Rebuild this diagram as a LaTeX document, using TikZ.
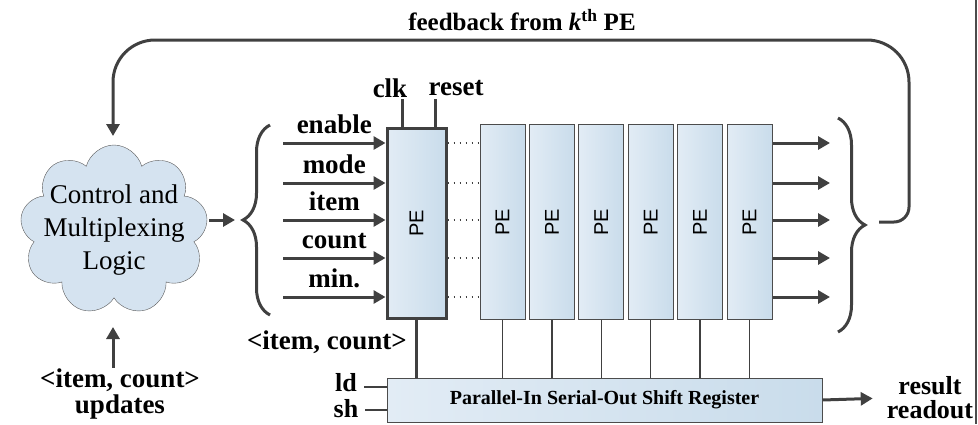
\documentclass[tikz,border=0pt]{standalone}
\usepackage{fontspec}
\setmainfont{Liberation Serif}
\setsansfont{Liberation Sans}
\usetikzlibrary{arrows.meta,shapes.symbols,decorations.pathreplacing,positioning}
\definecolor{wirecol}{RGB}{64,64,64}
\definecolor{peleft}{RGB}{226,236,245}
\definecolor{peright}{RGB}{201,220,235}
\definecolor{cloudfill}{RGB}{213,227,240}
\begin{document}
\begin{tikzpicture}[
    x=1pt, y=-1pt,
    pe/.style={
        rectangle,
        draw=gray!60!black,
        line width=1pt,
        left color=peleft,
        right color=peright,
        minimum width=45pt,
        minimum height=195pt,
        inner sep=0pt,
        font=\sffamily\fontsize{20}{24}\selectfont
    },
    lbl/.style={
        inner sep=1pt,
        font=\bfseries\fontsize{27}{26}\selectfont
    },
    sig/.style={
        draw=wirecol,
        line width=3pt,
        -{Triangle[length=12pt,width=13pt]}
    },
    bus/.style={draw=wirecol, line width=3pt},
    wire/.style={draw=wirecol, line width=1.5pt},
    dots/.style={draw=wirecol, line width=1.5pt, dash pattern=on 1.5pt off 4.5pt},
    brace/.style={
        draw=wirecol,
        line width=3pt,
        decorate,
        decoration={brace, amplitude=27pt}
    }
]
\useasboundingbox (0,0) rectangle (978,424);

% control logic
\node[cloud, draw=gray!70!black, fill=cloudfill, cloud puffs=9, aspect=1.1,
      minimum width=188pt, minimum height=170pt] (ctrl) at (114,230) {};
\node[align=center, font=\fontsize{27}{33}\selectfont] (ctrltext) at (ctrl.center) {Control and\\Multiplexing\\Logic};
\node[lbl, align=center] (upd) at (120,394) {<item, count>\\updates};
\coordinate (updend) at (113,327);

% PE array
\node[pe, minimum width=59pt, minimum height=190pt, draw=wirecol, line width=3pt] (pe1) at (416.5,223) {\rotatebox{90}{PE}};
\foreach \i in {2,...,7}
    \node[pe] (pe\i) at ({502.5+(\i-2)*49.4},222) {\rotatebox{90}{PE}};

\node[lbl] (clk) at (390,88) {clk};
\node[lbl] (reset) at (456,88) {reset};

% shift register
\node[pe, minimum width=435pt, minimum height=44pt, font=\bfseries\fontsize{20}{24}\selectfont] (sr) at (604.5,400) {Parallel-In Serial-Out Shift Register};
\node[lbl, font=\bfseries\fontsize{26}{26}\selectfont] (ld) at (346,383) {ld};
\node[lbl, font=\bfseries\fontsize{26}{26}\selectfont] (sh) at (346,409) {sh};
\node[lbl, align=center, font=\bfseries\fontsize{26}{24}\selectfont] (rr) at (930,398) {result\\readout};
\node[lbl, anchor=east] (ic) at (408,342) {<item, count>};

\node[lbl, font=\bfseries\fontsize{25}{25}\selectfont] (fbl) at (522,20) {feedback from \textit{k}\textsuperscript{th} PE};

% braces
\draw[brace] (270,315) -- (270,125);
\coordinate (lb) at (243,220);
\draw[brace] (838,118) -- (838,332);
\coordinate (rb) at (865,225);

% inputs and outputs
\foreach \y/\name [count=\k] in {143/enable,183/mode,220/item,258/count,297/min.} {
    \coordinate (in\k) at (283,\y);
    \coordinate (out\k) at (830,\y);
    \draw[sig] (in\k) -- (in\k -| pe1.west) node[lbl, midway, above=7pt] {\name};
    \draw[dots] (pe1.east |- in\k) -- (pe2.west |- in\k);
    \draw[sig] (pe7.east |- out\k) -- (out\k);
}

\draw[bus] (pe1.north west) ++(16.5,0) -- ++(0,-28);
\draw[bus] (pe1.north west) ++(49.5,0) -- ++(0,-28);

\draw[bus] (pe1.south) -- (pe1.south |- sr.north);
\foreach \i in {2,...,7}
    \draw[wire] (pe\i.south) -- (pe\i.south |- sr.north);

\draw[wire, shorten <=6pt] (ld.east) ++(0,4) -- (sr.west |- 0,387);
\draw[wire, shorten <=6pt] (sh.east) ++(0,1) -- (sr.west |- 0,410);
\draw[sig, shorten >=13pt] (sr.east) -- (rr.west);

\draw[sig, shorten <=4pt, shorten >=8pt] (ctrl.east |- lb) -- (lb);
\draw[sig] (upd.north -| updend) -- (updend);

% feedback
\coordinate (fbstart) at (879,222);
\coordinate (fbtop) at (909,40);
\coordinate (fbend) at (113,136);
\draw[sig] (fbstart) [rounded corners=15pt] -- (fbstart -| fbtop) [rounded corners=42pt] -- (fbtop) -- (fbtop -| fbend) -- (fbend);

\draw[gray!60!black, line width=1.5pt] (976,0) -- (976,424);
\end{tikzpicture}
\end{document}
